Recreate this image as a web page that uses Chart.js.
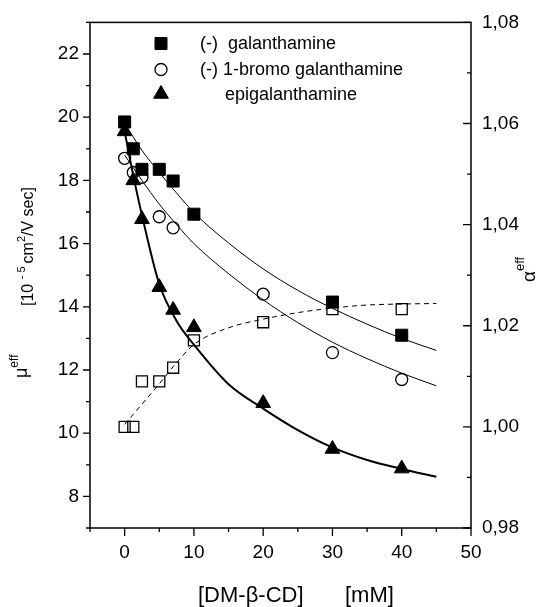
<!DOCTYPE html>
<html>
<head>
<meta charset="utf-8">
<script src="https://cdn.jsdelivr.net/npm/chart.js@4.4.1/dist/chart.umd.min.js"></script>
<style>
  html, body { margin: 0; padding: 0; background: #fff; }
  #wrap { width: 537px; height: 607px; }
</style>
</head>
<body>
<div id="wrap"><canvas id="mobility"></canvas></div>
<script>
// measured points, DM-beta-CD concentration in mM
var concLevels = [0, 1.25, 2.5, 5, 7, 10, 20, 30, 40];
var muGalanthamine = [19.85, 19.0, 18.35, 18.35, 17.98, 16.93, null, 14.15, 13.1];
var muBromo = [18.7, 18.25, 18.1, 16.85, 16.5, null, 14.4, 12.55, 11.7];
var muEpi = [19.55, 18.0, 16.77, 14.62, 13.9, 13.35, 10.95, 9.5, 8.88];
var alphaEff = [1.000, 1.000, 1.009, 1.009, 1.0117, 1.0171, 1.0207, 1.0233, 1.0233];

// fitted curves
var fitConc = [0, 1.25, 2.5, 5, 7.5, 10, 15, 20, 25, 30, 35, 40, 45];
var fitGalanthamine = [19.8, 19.37, 18.95, 18.25, 17.6, 16.98, 16.02, 15.2, 14.52, 13.95, 13.45, 13.0, 12.62];
var fitBromo = [18.8, 18.4, 18.0, 17.25, 16.6, 16.0, 15.05, 14.22, 13.5, 12.88, 12.36, 11.9, 11.5];
var fitEpi = [19.55, 18.15, 16.9, 14.72, 13.55, 12.8, 11.55, 10.78, 10.1, 9.55, 9.15, 8.87, 8.62];
var fitAlpha = [1.0005, 1.0025, 1.0045, 1.0085, 1.0127, 1.0163, 1.0196, 1.0213, 1.0226, 1.0235, 1.0241, 1.0243, 1.0244];

// tick labels
var xTicks = [0, 10, 20, 30, 40, 50];
var muTicks = [8, 10, 12, 14, 16, 18, 20, 22];
var alphaTicks = [0.98, 1.00, 1.02, 1.04, 1.06, 1.08];

var seriesNames = ['(-)  galanthamine', '(-) 1-bromo galanthamine', 'epigalanthamine'];

var FONT = "Arial, 'Liberation Sans', Helvetica, sans-serif";

function pairs(xs, ys) {
  var out = [];
  for (var i = 0; i < xs.length; i++) {
    if (ys[i] !== null) out.push({ x: xs[i], y: ys[i] });
  }
  return out;
}

function fixTicks(values) {
  return function(scale) {
    scale.ticks = values.map(function(v) { return { value: v }; });
  };
}

// frame, inner/outer ticks, axis titles and legend
var decorations = {
  id: 'decorations',
  afterDraw: function(chart) {
    var ctx = chart.ctx, a = chart.chartArea, s = chart.scales;
    ctx.save();
    ctx.strokeStyle = '#000';
    ctx.lineWidth = 1.5;
    ctx.strokeRect(a.left, a.top, a.right - a.left, a.bottom - a.top);

    ctx.lineWidth = 1.3;
    ctx.beginPath();
    for (var v = -5; v <= 50; v += 5) {
      var px = s.x.getPixelForValue(v);
      var len = v % 10 === 0 ? 8 : 4;
      ctx.moveTo(px, a.bottom); ctx.lineTo(px, a.bottom + len);
    }
    for (var m = 7; m <= 23; m++) {
      var py = s.y.getPixelForValue(m);
      var l2 = m % 2 === 0 ? 7 : 4;
      ctx.moveTo(a.left - l2, py); ctx.lineTo(a.left, py);
    }
    for (var i = 0; i <= 10; i++) {
      var pa = s.y2.getPixelForValue(0.98 + i * 0.01);
      var l3 = i % 2 === 0 ? 8 : 4;
      ctx.moveTo(a.right - l3, pa); ctx.lineTo(a.right, pa);
    }
    ctx.stroke();

    ctx.fillStyle = '#000';
    ctx.textBaseline = 'alphabetic';

    // x title
    ctx.font = '22px ' + FONT;
    ctx.fillText('[DM-\u03b2-CD]', 198, 602);
    ctx.fillText('[mM]', 345, 602);

    // left title: mu eff [10^-5 cm^2/V sec]
    ctx.save();
    ctx.translate(27, 378);
    ctx.rotate(-Math.PI / 2);
    ctx.font = '18px ' + FONT;
    ctx.fillText('\u03bc', 0, 0);
    var w = ctx.measureText('\u03bc').width;
    ctx.font = '12px ' + FONT;
    ctx.fillText('eff', w, -9);
    ctx.restore();

    ctx.save();
    ctx.translate(33, 306);
    ctx.rotate(-Math.PI / 2);
    var x0 = 0;
    ctx.font = '16px ' + FONT;
    ctx.fillText('[10 ', x0, 0); x0 += ctx.measureText('[10 ').width;
    ctx.font = '11px ' + FONT;
    ctx.fillText('- 5', x0, -8); x0 += ctx.measureText('- 5 ').width;
    ctx.font = '16px ' + FONT;
    ctx.fillText('cm', x0, 0); x0 += ctx.measureText('cm').width;
    ctx.font = '11px ' + FONT;
    ctx.fillText('2', x0, -8); x0 += ctx.measureText('2').width;
    ctx.font = '16px ' + FONT;
    ctx.fillText('/V sec]', x0, 0);
    ctx.restore();

    // right title: alpha eff
    ctx.save();
    ctx.translate(535, 282);
    ctx.rotate(-Math.PI / 2);
    ctx.font = '19px ' + FONT;
    ctx.fillText('\u03b1', 0, 0);
    var wa = ctx.measureText('\u03b1').width;
    ctx.font = '13px ' + FONT;
    ctx.fillText('eff', wa, -11);
    ctx.restore();

    // legend
    var rows = [43.5, 69.5, 94];
    var styles = [
      { pointStyle: 'rect', radius: 8.5, rotation: 0, borderWidth: 1, fill: true },
      { pointStyle: 'circle', radius: 6, rotation: 0, borderWidth: 1.3, fill: false },
      { pointStyle: 'triangle', radius: 8.5, rotation: 0, borderWidth: 1, fill: true }
    ];
    ctx.font = '18px ' + FONT;
    ctx.textBaseline = 'middle';
    for (var r = 0; r < rows.length; r++) {
      ctx.fillStyle = styles[r].fill ? '#000' : '#fff';
      ctx.strokeStyle = '#000';
      ctx.lineWidth = styles[r].borderWidth;
      Chart.helpers.drawPoint(ctx, styles[r], 161, rows[r]);
      ctx.fillStyle = '#000';
      ctx.fillText(seriesNames[r], r === 2 ? 225 : 200, rows[r] + 1);
    }
    ctx.restore();
  }
};

var ctx = document.getElementById('mobility');

var mobilityChart = new Chart(ctx, {
  type: 'scatter',
  data: {
    datasets: [
      {
        label: seriesNames[0],
        data: pairs(concLevels, muGalanthamine),
        yAxisID: 'y',
        pointStyle: 'rect',
        pointRadius: 8.5,
        backgroundColor: '#000',
        borderColor: '#000',
        borderWidth: 1
      },
      {
        label: seriesNames[1],
        data: pairs(concLevels, muBromo),
        yAxisID: 'y',
        pointStyle: 'circle',
        pointRadius: 6,
        backgroundColor: 'rgba(0,0,0,0)',
        borderColor: '#000',
        borderWidth: 1.3
      },
      {
        label: seriesNames[2],
        data: pairs(concLevels, muEpi),
        yAxisID: 'y',
        pointStyle: 'triangle',
        pointRadius: 8.5,
        backgroundColor: '#000',
        borderColor: '#000',
        borderWidth: 1
      },
      {
        label: 'alpha eff',
        data: pairs(concLevels, alphaEff),
        yAxisID: 'y2',
        pointStyle: 'rect',
        pointRadius: 7.8,
        backgroundColor: 'rgba(0,0,0,0)',
        borderColor: '#000',
        borderWidth: 1.3
      },
      {
        label: 'fit galanthamine',
        data: pairs(fitConc, fitGalanthamine),
        yAxisID: 'y',
        showLine: true,
        pointRadius: 0,
        borderColor: '#000',
        borderWidth: 1,
        cubicInterpolationMode: 'monotone'
      },
      {
        label: 'fit 1-bromo',
        data: pairs(fitConc, fitBromo),
        yAxisID: 'y',
        showLine: true,
        pointRadius: 0,
        borderColor: '#000',
        borderWidth: 1,
        cubicInterpolationMode: 'monotone'
      },
      {
        label: 'fit epi',
        data: pairs(fitConc, fitEpi),
        yAxisID: 'y',
        showLine: true,
        pointRadius: 0,
        borderColor: '#000',
        borderWidth: 2,
        cubicInterpolationMode: 'monotone'
      },
      {
        label: 'fit alpha',
        data: pairs(fitConc, fitAlpha),
        yAxisID: 'y2',
        showLine: true,
        pointRadius: 0,
        borderColor: '#000',
        borderWidth: 1,
        borderDash: [5, 4],
        cubicInterpolationMode: 'monotone'
      }
    ]
  },
  options: {
    responsive: true,
    maintainAspectRatio: false,
    animation: false,
    layout: { padding: { top: 21, left: 0, right: 0, bottom: 0 } },
    plugins: {
      legend: { display: false },
      tooltip: { enabled: false }
    },
    scales: {
      x: {
        type: 'linear',
        min: -5,
        max: 50,
        afterBuildTicks: fixTicks(xTicks),
        afterFit: function(scale) { scale.height = 79; },
        border: { display: false },
        grid: { drawOnChartArea: false, drawTicks: true, tickLength: 8, color: 'rgba(0,0,0,0)' },
        ticks: { color: '#000', font: { family: FONT, size: 19 }, padding: 5, maxRotation: 0, autoSkip: false }
      },
      y: {
        type: 'linear',
        position: 'left',
        min: 7,
        max: 23,
        afterBuildTicks: fixTicks(muTicks),
        afterFit: function(scale) { scale.width = 90; },
        border: { display: false },
        grid: { drawOnChartArea: false, drawTicks: true, tickLength: 7, color: 'rgba(0,0,0,0)' },
        ticks: { color: '#000', font: { family: FONT, size: 19 }, padding: 4 }
      },
      y2: {
        type: 'linear',
        position: 'right',
        min: 0.98,
        max: 1.08,
        afterBuildTicks: fixTicks(alphaTicks),
        afterFit: function(scale) { scale.width = 66; },
        border: { display: false },
        grid: { drawOnChartArea: false, drawTicks: false },
        ticks: {
          color: '#000',
          font: { family: FONT, size: 19 },
          padding: 11,
          callback: function(v) { return v.toFixed(2).replace('.', ','); }
        }
      }
    }
  },
  plugins: [decorations]
});
</script>
</body>
</html>
